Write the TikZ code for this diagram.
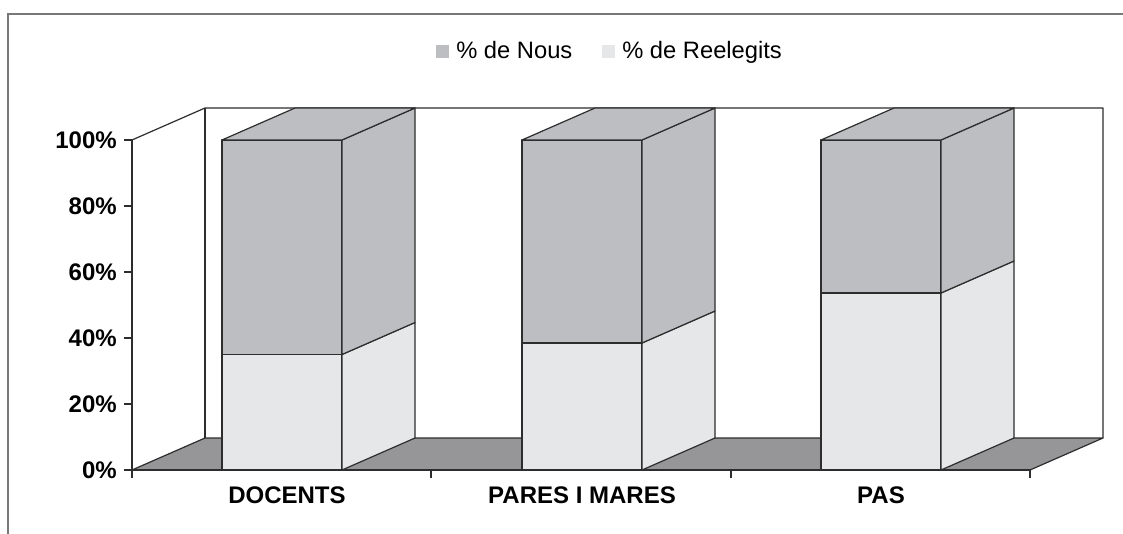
\documentclass[tikz,border=0pt]{standalone}
\usepackage{xcolor}
\usepackage{fontspec}
\setmainfont{Liberation Sans}
\definecolor{nousgray}{RGB}{189,190,194}
\definecolor{reelgray}{RGB}{230,231,233}
\definecolor{floorgray}{RGB}{150,150,153}
\definecolor{edgegray}{RGB}{45,45,45}
\definecolor{framegray}{RGB}{120,120,120}

\begin{document}
\begin{tikzpicture}[x=0.75pt,y=0.75pt,yscale=-1,xscale=1,
	edgeline/.style={draw=edgegray,line width=0.9pt,line join=round},
	nousface/.style={edgeline,fill=nousgray},
	reelface/.style={edgeline,fill=reelgray},
	ylabel/.style={anchor=east,inner sep=0.75pt,font=\bfseries\fontsize{18}{20}\selectfont},
	catlabel/.style={anchor=center,inner sep=0.75pt,font=\bfseries\fontsize{18}{20}\selectfont},
	legtext/.style={anchor=base west,inner sep=0.75pt,font=\fontsize{17.8}{20}\selectfont}]
	\useasboundingbox (0,0) rectangle (1123,534);
	
	%Frame
	\draw [framegray,line width=1.2pt] (8,534) -- (8,14) -- (1123,14) ;
	
	%Shape: Floor
	\draw [edgeline,fill=floorgray] (132,470) -- (1030,470) -- (1103,438) -- (205,438) -- cycle ;
	%Back walls
	\draw [edgeline] (132,140) -- (205,108) -- (1103,108) -- (1103,438) ;
	\draw [edgeline] (205,108) -- (205,438) ;
	%Axis
	\draw [edgeline] (132,140) -- (132,470) -- (1030,470) ;
	\draw [edgeline] (124,140) -- (132,140) (124,206) -- (132,206) (124,272) -- (132,272) (124,338) -- (132,338) (124,404) -- (132,404) (124,470) -- (132,470) ;
	\draw [edgeline] (132,470) -- (132,478) (431,470) -- (431,478) (731,470) -- (731,478) (1030,470) -- (1030,478) ;
	
	%Bar: DOCENTS
	\draw [reelface] (222,470) -- (342,470) -- (342,354.5) -- (222,354.5) -- cycle ;
	\draw [reelface] (342,470) -- (415,438) -- (415,322.5) -- (342,354.5) -- cycle ;
	\draw [nousface] (222,354.5) -- (342,354.5) -- (342,140) -- (222,140) -- cycle ;
	\draw [nousface] (342,354.5) -- (415,322.5) -- (415,108) -- (342,140) -- cycle ;
	\draw [nousface] (222,140) -- (342,140) -- (415,108) -- (295,108) -- cycle ;
	%Bar: PARES I MARES
	\draw [reelface] (522,470) -- (642,470) -- (642,343) -- (522,343) -- cycle ;
	\draw [reelface] (642,470) -- (715,438) -- (715,311) -- (642,343) -- cycle ;
	\draw [nousface] (522,343) -- (642,343) -- (642,140) -- (522,140) -- cycle ;
	\draw [nousface] (642,343) -- (715,311) -- (715,108) -- (642,140) -- cycle ;
	\draw [nousface] (522,140) -- (642,140) -- (715,108) -- (595,108) -- cycle ;
	%Bar: PAS
	\draw [reelface] (821,470) -- (941,470) -- (941,293) -- (821,293) -- cycle ;
	\draw [reelface] (941,470) -- (1014,438) -- (1014,261) -- (941,293) -- cycle ;
	\draw [nousface] (821,293) -- (941,293) -- (941,140) -- (821,140) -- cycle ;
	\draw [nousface] (941,293) -- (1014,261) -- (1014,108) -- (941,140) -- cycle ;
	\draw [nousface] (821,140) -- (941,140) -- (1014,108) -- (894,108) -- cycle ;
	
	% Text Node
	\node [ylabel] (y100) at (118,140) {100\%};
	\node [ylabel] (y80) at (118,206) {80\%};
	\node [ylabel] (y60) at (118,272) {60\%};
	\node [ylabel] (y40) at (118,338) {40\%};
	\node [ylabel] (y20) at (118,404) {20\%};
	\node [ylabel] (y0) at (118,470) {0\%};
	% Text Node
	\node [catlabel] (docents) at (287,495) {DOCENTS};
	\node [catlabel] (pares) at (582,495) {PARES I MARES};
	\node [catlabel] (pas) at (881,495) {PAS};
	
	%Legend
	\fill [nousgray] (436,45) rectangle (449,58) ;
	\node [legtext] (legnous) at (455,59) {\% de Nous};
	\fill [reelgray] (602,45) rectangle (615,58) ;
	\node [legtext] (legreel) at (621,59) {\% de Reelegits};
\end{tikzpicture}
\end{document}
